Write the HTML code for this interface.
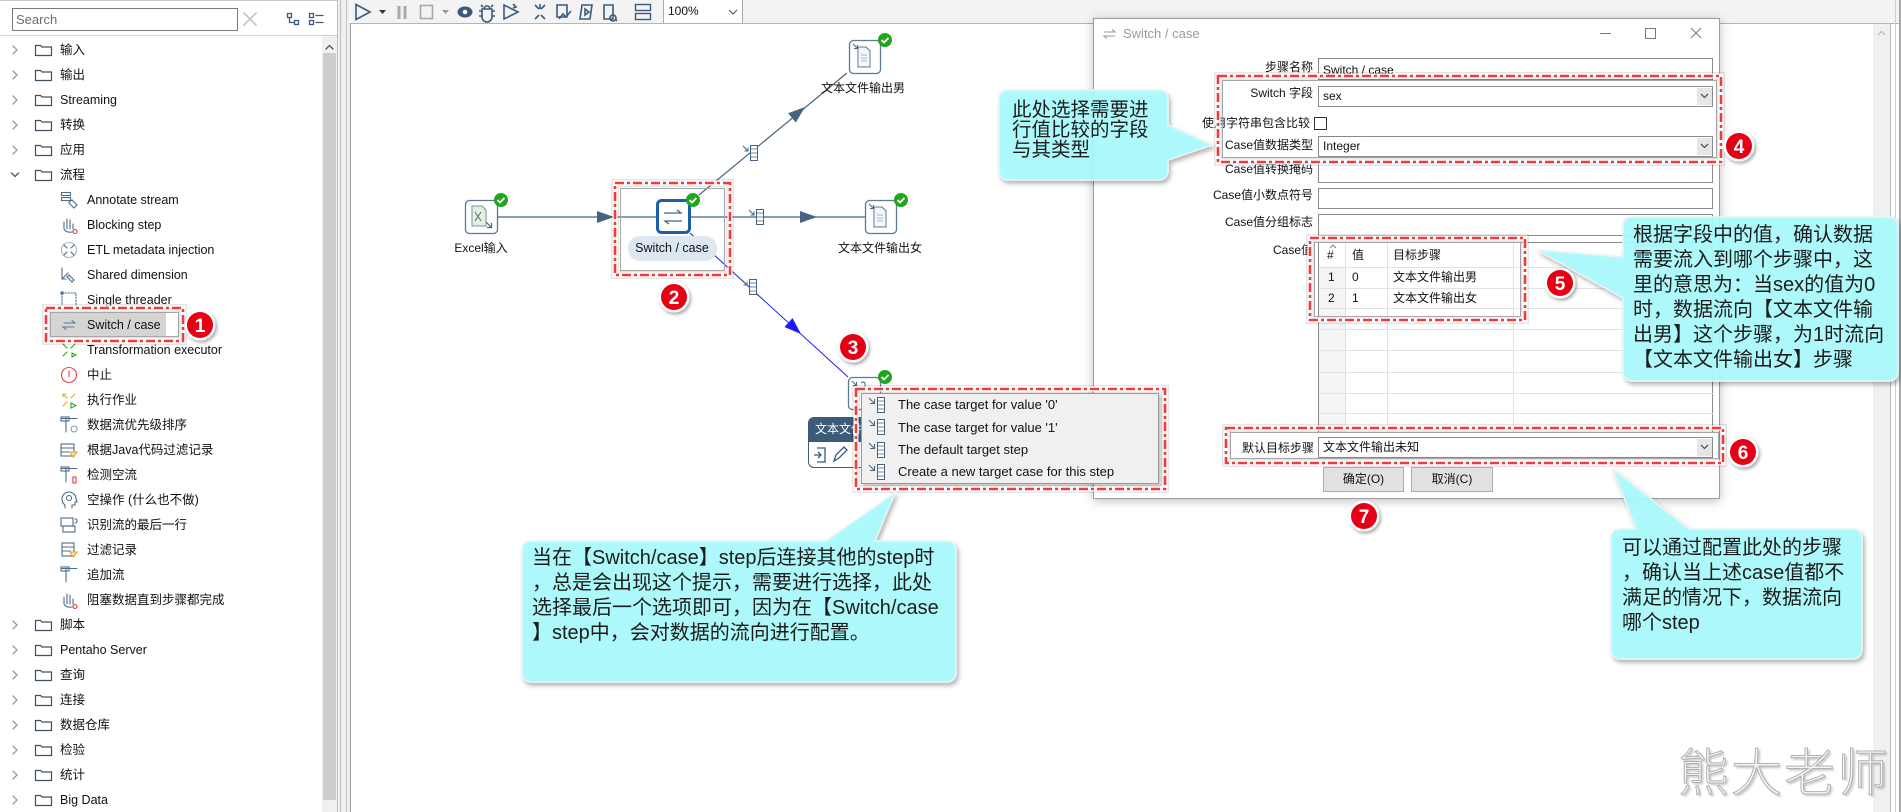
<!DOCTYPE html>
<html><head><meta charset="utf-8">
<style>
*{margin:0;padding:0;box-sizing:border-box}
html,body{width:1901px;height:812px;overflow:hidden;background:#fff}
body{position:relative;font-family:"Liberation Sans","Noto Sans CJK SC",sans-serif;color:#111}
.a{position:absolute}
.t{position:absolute;white-space:nowrap;font-size:12.5px;height:25px;line-height:25px;color:#111}
.lb{position:absolute;white-space:nowrap;font-size:12px;text-align:right;width:140px;left:1173px;height:20px;line-height:20px;color:#111}
.in{position:absolute;left:1318px;width:395px;background:#fff;border:1px solid #8a8a8a;font-size:12px;padding-left:4px;white-space:nowrap;color:#111}
.dd{position:absolute;left:1697px;width:15px;background:#e6e6e6}
.bt{position:absolute;font-size:12px;text-align:center;background:#e1e1e1;border:1px solid #adadad;height:25px;line-height:23px;color:#111}
.bub{position:absolute;white-space:nowrap;color:#1c1c1c}
.mi{position:absolute;left:898px;font-size:13px;white-space:nowrap;height:20px;line-height:20px;color:#111}
.cl{position:absolute;font-size:12px;white-space:nowrap;height:20px;line-height:20px;color:#111}
.nl{position:absolute;font-size:12px;white-space:nowrap;text-align:center;width:140px;height:18px;line-height:18px;color:#111}
</style></head><body>

<!-- ============ SIDEBAR ============ -->
<div class="a" style="left:0;top:0;width:337px;height:812px;background:#fff"></div>
<div class="a" style="left:0;top:0;width:337px;height:1px;background:#c8c8c8"></div>
<div class="a" style="left:12px;top:8px;width:226px;height:23px;border:1px solid #7a7a7a;background:#fff;font-size:13px;line-height:21px;padding-left:3px;color:#6d6d6d">Search</div>
<div class="a" style="left:0;top:35px;width:337px;height:1px;background:#d0d0d0"></div>
<div class="a" style="left:322px;top:36px;width:15px;height:776px;background:#f0f0f0"></div>
<div class="a" style="left:323px;top:53px;width:13px;height:747px;background:#cdcdcd"></div>
<div class="a" style="left:337px;top:0;width:13px;height:812px;background:#f0f0f0"></div>
<div class="a" style="left:337px;top:0;width:1px;height:812px;background:#bcbcbc"></div>
<div class="a" style="left:340px;top:0;width:1px;height:812px;background:#bcbcbc"></div>
<div class="a" style="left:346px;top:0;width:1px;height:812px;background:#c4c4c4"></div>
<div class="a" style="left:350px;top:23px;width:1px;height:789px;background:#a0a0a0"></div>

<div class="a" style="left:51px;top:313px;width:115px;height:23px;background:#d4d4d4"></div>

<svg class="a" style="left:0;top:0" width="337" height="812" fill="none" stroke-linecap="round">
 <path d="M244 13l12 12M256 13l-12 12" stroke="#c4c4c4" stroke-width="1.6"/>
 <g stroke="#3d5a78" stroke-width="1.3">
  <rect x="287.5" y="13.5" width="4" height="4"/><rect x="294.5" y="20.5" width="4" height="4"/><path d="M289.5 17.5v5h5"/>
  <rect x="309.5" y="13.5" width="4" height="4"/><rect x="309.5" y="20.5" width="4" height="4"/><path d="M316 15.5h7M316 22.5h7"/>
 </g>
 <path d="M326 49l3.5-3.5 3.5 3.5" stroke="#555" stroke-width="1.3"/>
 <g stroke="#9a9a9a" stroke-width="1.3">
  <path d="M13 46L17 50L13 54"/><path d="M13 71L17 75L13 79"/><path d="M13 96L17 100L13 104"/>
  <path d="M13 121L17 125L13 129"/><path d="M13 146L17 150L13 154"/>
  <path d="M11.5 173L15 176.5L18.5 173" stroke="#555"/>
  <path d="M13 621L17 625L13 629"/><path d="M13 646L17 650L13 654"/><path d="M13 671L17 675L13 679"/>
  <path d="M13 696L17 700L13 704"/><path d="M13 721L17 725L13 729"/><path d="M13 746L17 750L13 754"/>
  <path d="M13 771L17 775L13 779"/><path d="M13 796L17 800L13 804"/>
 </g>
 <g stroke="#3e4f60" stroke-width="1.2">
  <path d="M35.5 45.5h5l1.5 1.5h9.5v8.5h-16z"/><path d="M35.5 70.5h5l1.5 1.5h9.5v8.5h-16z"/>
  <path d="M35.5 95.5h5l1.5 1.5h9.5v8.5h-16z"/><path d="M35.5 120.5h5l1.5 1.5h9.5v8.5h-16z"/>
  <path d="M35.5 145.5h5l1.5 1.5h9.5v8.5h-16z"/><path d="M35.5 170.5h5l1.5 1.5h9.5v8.5h-16z"/>
  <path d="M35.5 620.5h5l1.5 1.5h9.5v8.5h-16z"/><path d="M35.5 645.5h5l1.5 1.5h9.5v8.5h-16z"/>
  <path d="M35.5 670.5h5l1.5 1.5h9.5v8.5h-16z"/><path d="M35.5 695.5h5l1.5 1.5h9.5v8.5h-16z"/>
  <path d="M35.5 720.5h5l1.5 1.5h9.5v8.5h-16z"/><path d="M35.5 745.5h5l1.5 1.5h9.5v8.5h-16z"/>
  <path d="M35.5 770.5h5l1.5 1.5h9.5v8.5h-16z"/><path d="M35.5 795.5h5l1.5 1.5h9.5v8.5h-16z"/>
 </g>
 <g stroke="#4d6c8b" stroke-width="1.1">
  <g transform="translate(60,191)"><rect x="1.5" y="1.5" width="9" height="3"/><rect x="1.5" y="6.5" width="9" height="3"/><path d="M9 11l3-2 5 5-3 3-5-5z"/></g>
  <g transform="translate(60,216)"><path d="M4 13V6M7 13V3M10 13V4M13 13V8M4 13q2 4 8 3"/><circle cx="15" cy="15.5" r="2" stroke="#e33"/></g>
  <g transform="translate(60,241)"><circle cx="9" cy="9" r="7.5" stroke="#a8b6c4"/><path d="M4 4l3 3M14 4l-3 3M4 14l3-3M14 14l-3-3"/></g>
  <g transform="translate(60,266)"><path d="M2 2v11h4M2 13l6-6M9 9l5 5-2 2-5-5z"/></g>
  <g transform="translate(60,291)"><rect x="2" y="2" width="14" height="14" stroke-dasharray="1.5 1.5"/><rect x="1" y="1" width="2" height="2"/><rect x="15" y="15" width="2" height="2"/></g>
  <g transform="translate(60,316)"><path d="M4 7h11l-3-2.5M14 11H3l3 2.5" stroke="#5b7aa0"/></g>
  <g transform="translate(60,341)" stroke="#2a2"><path d="M3 3l4 4M15 3l-4 4M3 15l4-4"/><path d="M12 12l4 2-4 2z"/></g>
  <g transform="translate(60,366)"><circle cx="9" cy="9" r="7.5" stroke="#e44"/><path d="M9 5v6" stroke="#e44"/></g>
  <g transform="translate(60,391)"><path d="M3 3l4 4M3 3h3M3 3v3M15 3l-4 4M3 15l4-4" stroke="#f0a030"/><path d="M11 12l5 2.5-5 2.5z" stroke="#2a2"/></g>
  <g transform="translate(60,416)"><path d="M1 2.5h16M6 2.5V16"/><rect x="1" y="1" width="8" height="4"/><circle cx="14" cy="13" r="3" stroke="#8899aa"/></g>
  <g transform="translate(60,441)"><rect x="1" y="3" width="13" height="12"/><path d="M1 7h13M1 11h8"/><path d="M10 11h7l-3.5 5z" stroke="#f0a030" fill="#fde6b0"/></g>
  <g transform="translate(60,466)"><path d="M1 2.5h16M6 2.5V16"/><rect x="1" y="1" width="8" height="4"/><path d="M13 11h3v6h-3z" stroke="#e33"/></g>
  <g transform="translate(60,491)"><path d="M5 17v-3q-3-2-3-6a7 7 0 0 1 14 0l1 3h-2v3h-3v3"/><circle cx="9" cy="7" r="2.5"/></g>
  <g transform="translate(60,516)"><rect x="1" y="2" width="12" height="8"/><rect x="3" y="10" width="12" height="6"/><path d="M15 3q2 0 2 2t-2 2"/></g>
  <g transform="translate(60,541)"><rect x="2" y="2" width="12" height="13"/><path d="M2 6h12M2 10h8"/><path d="M10 11h7l-3.5 5z" stroke="#f0a030" fill="#fde6b0"/></g>
  <g transform="translate(60,566)"><path d="M1 2.5h16M6 2.5V16"/><rect x="1" y="1" width="8" height="4"/></g>
  <g transform="translate(60,591)"><path d="M4 13V6M7 13V3M10 13V4M13 13V8M4 13q2 4 8 3"/><circle cx="15" cy="15.5" r="2" stroke="#e33"/></g>
 </g>
</svg>

<div class="t" style="left:60px;top:37.5px">输入</div>
<div class="t" style="left:60px;top:62.5px">输出</div>
<div class="t" style="left:60px;top:87.5px">Streaming</div>
<div class="t" style="left:60px;top:112.5px">转换</div>
<div class="t" style="left:60px;top:137.5px">应用</div>
<div class="t" style="left:60px;top:162.5px">流程</div>
<div class="t" style="left:87px;top:187.5px">Annotate stream</div>
<div class="t" style="left:87px;top:212.5px">Blocking step</div>
<div class="t" style="left:87px;top:237.5px">ETL metadata injection</div>
<div class="t" style="left:87px;top:262.5px">Shared dimension</div>
<div class="t" style="left:87px;top:287.5px">Single threader</div>
<div class="t" style="left:87px;top:312.5px">Switch / case</div>
<div class="t" style="left:87px;top:337.5px">Transformation executor</div>
<div class="t" style="left:87px;top:362.5px">中止</div>
<div class="t" style="left:87px;top:387.5px">执行作业</div>
<div class="t" style="left:87px;top:412.5px">数据流优先级排序</div>
<div class="t" style="left:87px;top:437.5px">根据Java代码过滤记录</div>
<div class="t" style="left:87px;top:462.5px">检测空流</div>
<div class="t" style="left:87px;top:487.5px">空操作 (什么也不做)</div>
<div class="t" style="left:87px;top:512.5px">识别流的最后一行</div>
<div class="t" style="left:87px;top:537.5px">过滤记录</div>
<div class="t" style="left:87px;top:562.5px">追加流</div>
<div class="t" style="left:87px;top:587.5px">阻塞数据直到步骤都完成</div>
<div class="t" style="left:60px;top:612.5px">脚本</div>
<div class="t" style="left:60px;top:637.5px">Pentaho Server</div>
<div class="t" style="left:60px;top:662.5px">查询</div>
<div class="t" style="left:60px;top:687.5px">连接</div>
<div class="t" style="left:60px;top:712.5px">数据仓库</div>
<div class="t" style="left:60px;top:737.5px">检验</div>
<div class="t" style="left:60px;top:762.5px">统计</div>
<div class="t" style="left:60px;top:787.5px">Big Data</div>

<!-- ============ TOOLBAR ============ -->
<div class="a" style="left:351px;top:0;width:1550px;height:23px;background:#f3f3f3"></div>
<div class="a" style="left:351px;top:23px;width:1550px;height:1px;background:#b4b4b4"></div>
<div class="a" style="left:663px;top:0;width:80px;height:23px;background:#fff;border-left:1px solid #aaa;border-right:1px solid #aaa;font-size:12px;line-height:23px;padding-left:4px">100%</div>
<svg class="a" style="left:351px;top:0" width="400" height="23" fill="none" stroke="#3b5b7b" stroke-width="1.6">
 <path d="M5 4.5L19 12 5 19.5z"/>
 <path d="M28 10h7l-3.5 4z" fill="#333" stroke="none"/>
 <path d="M48 6v13M54 6v13" stroke="#aaa" stroke-width="3"/>
 <rect x="69.5" y="5.5" width="12" height="13" stroke="#aaa"/>
 <path d="M91 10h7l-3.5 4z" fill="#999" stroke="none"/>
 <ellipse cx="114" cy="12" rx="7.5" ry="5.5" fill="#3b5b7b" stroke="none"/><circle cx="114" cy="12" r="2.3" fill="#fff" stroke="none"/>
 <path d="M131 9h10v8a5 5 0 0 1-10 0zM133 9a3 3 0 0 1 6 0M128 11h3M141 11h3M128 16h3M141 16h3M130 5l2 2M142 5l-2 2"/>
 <path d="M153 5l14 7-14 7zM162 4l3 3-3 1"/>
 <path d="M184 5l4 4M194 5l-4 4M184 19l4-4M194 19l-4-4M189 4v5"/>
 <path d="M206 5h10v12h-10zM208 19l4-5 3 3 5-6"/>
 <path d="M231 5h10l-2 14h-10zM234 9l4 3-4 3z"/>
 <path d="M253 5h9v14h-9zM262 15a3 3 0 1 1-0.1 0M264 19l2 2"/>
 <rect x="284.5" y="4.5" width="15" height="6" stroke-width="1.4"/><rect x="284.5" y="13.5" width="15" height="6" stroke-width="1.4"/>
 <path d="M378 10l4 4 4-4" stroke="#555" stroke-width="1.1"/>
</svg>

<div class="a" style="left:1873px;top:24px;width:17px;height:788px;background:#f0f0f0"></div>
<div class="a" style="left:1890px;top:24px;width:1px;height:788px;background:#bdbdbd"></div>
<div class="a" style="left:1895px;top:0;width:1px;height:812px;background:#cfcfcf"></div>
<div class="a" style="left:1899px;top:0;width:2px;height:812px;background:#a8a8a8"></div>
<svg class="a" style="left:1873px;top:26px" width="17" height="14"><path d="M5 9l3.5-3.5L12 9" stroke="#c0c0c0" stroke-width="1.4" fill="none"/></svg>

<!-- ============ CANVAS ============ -->
<svg class="a" style="left:0;top:0" width="1901" height="812" fill="none">
 <g stroke="#46637f" stroke-width="1.2">
  <line x1="497" y1="217" x2="657" y2="217"/>
  <line x1="690" y1="217" x2="865" y2="217"/>
  <line x1="699" y1="195" x2="847" y2="73"/>
 </g>
 <line x1="690" y1="233" x2="848" y2="377" stroke="#1a1aff" stroke-width="1"/>
 <g fill="#46637f">
  <polygon points="614,217 597,211 597,223"/>
  <polygon points="817,217 800,211 800,223"/>
  <polygon points="0,0 -17,-6 -17,6" transform="translate(805,107) rotate(-39.8)"/>
 </g>
 <polygon points="0,0 -17,-6 -17,6" fill="#1a1aff" transform="translate(801,334) rotate(42.5)"/>
 <g stroke="#46637f" stroke-width="1">
  <g transform="translate(756,209)"><rect x="0.5" y="0.5" width="7" height="15" fill="#fff"/><path d="M0.5 4h7M0.5 8h7M0.5 12h7" stroke-width=".7"/><path d="M-7 1l5 5M-2 2.5v3.5h-3.5"/></g>
  <g transform="translate(750,145)"><rect x="0.5" y="0.5" width="7" height="15" fill="#fff"/><path d="M0.5 4h7M0.5 8h7M0.5 12h7" stroke-width=".7"/><path d="M-7 1l5 5M-2 2.5v3.5h-3.5"/></g>
  <g transform="translate(749,279)"><rect x="0.5" y="0.5" width="7" height="15" fill="#fff"/><path d="M0.5 4h7M0.5 8h7M0.5 12h7" stroke-width=".7"/><path d="M-7 1l5 5M-2 2.5v3.5h-3.5"/></g>
 </g>
 <rect x="465.5" y="200.5" width="32" height="33" rx="4" fill="#fff" stroke="#5a7a98" stroke-width="1.3"/>
 <path d="M472 206h10l4 4v16h-14z" fill="#e2f0e2" stroke="#7a93aa"/>
 <path d="M475 212l6 9M481 212l-6 9" stroke="#666"/>
 <path d="M486 222l5 5M491.5 223v4.5h-4.5" stroke="#46637f" stroke-width="1.2"/>
 <rect x="657.5" y="200.5" width="32" height="32" rx="4" fill="#fff" stroke="#1c5fa8" stroke-width="3"/>
 <path d="M664 213h17l-4-3M682 221h-17l4 3" stroke="#46637f" stroke-width="1.3"/>
 <rect x="865.5" y="200.5" width="31" height="33" rx="4" fill="#fff" stroke="#5a7a98" stroke-width="1.3"/>
 <path d="M874 207h8l4 4v16h-12z" fill="#f4f7fa" stroke="#5a7a98"/>
 <path d="M877 215h6M877 218h6M877 221h6" stroke="#8aa0b5" stroke-width=".8"/>
 <path d="M869 204l4 4M873.5 205v3.5h-3.5" stroke="#46637f"/>
 <rect x="849.5" y="40.5" width="31" height="33" rx="4" fill="#fff" stroke="#5a7a98" stroke-width="1.3"/>
 <path d="M858 47h8l4 4v16h-12z" fill="#f4f7fa" stroke="#5a7a98"/>
 <path d="M861 55h6M861 58h6M861 61h6" stroke="#8aa0b5" stroke-width=".8"/>
 <path d="M853 44l4 4M857.5 45v3.5h-3.5" stroke="#46637f"/>
 <rect x="848.5" y="377.5" width="32" height="32" rx="4" fill="#fff" stroke="#5a7a98" stroke-width="1.3"/>
 <path d="M852 381l4 4M856.5 382v3.5h-3.5M861 383q2-2 4 0v4" stroke="#46637f"/>
 <g>
  <circle cx="501" cy="200" r="7" fill="#1fa51f"/><path d="M497.5 200l2.5 2.5 4.5-4.5" stroke="#fff" stroke-width="1.8"/>
  <circle cx="693" cy="200" r="7" fill="#1fa51f"/><path d="M689.5 200l2.5 2.5 4.5-4.5" stroke="#fff" stroke-width="1.8"/>
  <circle cx="901" cy="200" r="7" fill="#1fa51f"/><path d="M897.5 200l2.5 2.5 4.5-4.5" stroke="#fff" stroke-width="1.8"/>
  <circle cx="885" cy="40" r="7" fill="#1fa51f"/><path d="M881.5 40l2.5 2.5 4.5-4.5" stroke="#fff" stroke-width="1.8"/>
  <circle cx="885" cy="377" r="7" fill="#1fa51f"/><path d="M881.5 377l2.5 2.5 4.5-4.5" stroke="#fff" stroke-width="1.8"/>
 </g>
</svg>
<div class="a" style="left:628px;top:236px;width:89px;height:25px;border-radius:12px;background:#dce7f2"></div>
<div class="nl" style="left:411px;top:239px">Excel输入</div>
<div class="nl" style="left:602px;top:239px;font-size:12.5px">Switch / case</div>
<div class="nl" style="left:810px;top:239px">文本文件输出女</div>
<div class="nl" style="left:793px;top:79px">文本文件输出男</div>

<!-- tooltip of node 3 -->
<div class="a" style="left:808px;top:417px;width:56px;height:25px;background:#3c5b7a;border-radius:6px 0 0 0;overflow:hidden;color:#fff;font-size:12px;line-height:25px;padding-left:7px;white-space:nowrap">文本文件输出未知</div>
<div class="a" style="left:808px;top:442px;width:56px;height:26px;background:#fff;border:1px solid #3c5b7a;border-top:none;border-radius:0 0 0 6px"></div>
<svg class="a" style="left:812px;top:445px" width="44" height="20" fill="none" stroke="#3c5b7a" stroke-width="1.3">
 <path d="M5 3h8v14H5M2 10h7M6 7l3 3-3 3"/>
 <path d="M22 16l2-6 8-8 3 3-8 8z"/>
</svg>

<!-- ============ DIALOG ============ -->
<div class="a" style="left:1093px;top:18px;width:627px;height:481px;background:#fff;border:1px solid #9c9c9c;box-shadow:0 2px 10px rgba(0,0,0,.25)"></div>
<svg class="a" style="left:1101px;top:26px" width="18" height="16" fill="none" stroke="#999" stroke-width="1.1"><path d="M3 6h11l-3-2.5M14 10H3l3 2.5"/></svg>
<div class="a" style="left:1123px;top:25px;font-size:13px;color:#9a9a9a;line-height:18px;white-space:nowrap">Switch / case</div>
<svg class="a" style="left:1595px;top:24px" width="112" height="20" fill="none" stroke="#777" stroke-width="1">
 <path d="M5 9.5h11"/>
 <rect x="50.5" y="4.5" width="10" height="10"/>
 <path d="M96 4l10 10M106 4l-10 10"/>
</svg>

<div class="lb" style="top:57px">步骤名称</div>
<div class="lb" style="top:83px">Switch 字段</div>
<div class="lb" style="top:113px;left:1170px">使用字符串包含比较</div>
<div class="lb" style="top:135px">Case值数据类型</div>
<div class="lb" style="top:159px">Case值转换掩码</div>
<div class="lb" style="top:185px">Case值小数点符号</div>
<div class="lb" style="top:212px">Case值分组标志</div>
<div class="lb" style="top:240px">Case值</div>
<div class="lb" style="top:438px;left:1174px">默认目标步骤</div>

<div class="in" style="top:58px;height:22px;line-height:22px">Switch / case</div>
<div class="in" style="top:86px;height:21px;line-height:19px">sex</div>
<div class="dd" style="top:88px;height:17px"></div>
<div class="a" style="left:1314px;top:117px;width:13px;height:13px;border:1px solid #333;background:#fff"></div>
<div class="in" style="top:136px;height:21px;line-height:19px">Integer</div>
<div class="dd" style="top:138px;height:17px"></div>
<div class="in" style="top:162px;height:21px"></div>
<div class="in" style="top:188px;height:21px"></div>
<div class="in" style="top:214px;height:22px"></div>

<svg class="a" style="left:1318px;top:242px" width="396" height="190">
 <rect x="0.5" y="0.5" width="394" height="195" fill="#fff" stroke="#8a8a8a"/>
 <rect x="1" y="25" width="26" height="165" fill="#f4f4f4"/>
 <g stroke="#e2e2e2" stroke-width="1">
  <path d="M1 25.5h394M1 46.5h394M1 66.5h394M1 87.5h394M1 108.5h394M1 130.5h394M1 151.5h394M1 171.5h394"/>
  <path d="M27.5 1v189M69.5 1v189M195.5 1v189"/>
 </g>
 <path d="M12 6l3-3 3 3" stroke="#777" fill="none" stroke-width=".9"/>
</svg>
<div class="cl" style="left:1327px;top:245px">#</div>
<div class="cl" style="left:1352px;top:245px">值</div>
<div class="cl" style="left:1393px;top:245px">目标步骤</div>
<div class="cl" style="left:1328px;top:267px">1</div>
<div class="cl" style="left:1352px;top:267px">0</div>
<div class="cl" style="left:1393px;top:267px">文本文件输出男</div>
<div class="cl" style="left:1328px;top:288px">2</div>
<div class="cl" style="left:1352px;top:288px">1</div>
<div class="cl" style="left:1393px;top:288px">文本文件输出女</div>

<div class="in" style="top:437px;height:21px;line-height:19px">文本文件输出未知</div>
<div class="dd" style="top:439px;height:17px"></div>
<svg class="a" style="left:1697px;top:86px" width="15" height="375" fill="none" stroke="#555" stroke-width="1.3">
 <path d="M4 8l3.5 3.5L11 8"/>
 <path d="M4 58l3.5 3.5L11 58"/>
 <path d="M4 359l3.5 3.5L11 359"/>
</svg>

<div class="bt" style="left:1323px;top:467px;width:81px">确定(O)</div>
<div class="bt" style="left:1411px;top:467px;width:82px">取消(C)</div>

<!-- popup menu (on top of dialog) -->
<div class="a" style="left:861px;top:393px;width:298px;height:91px;background:#f0f0f0;border:1px solid #999;box-shadow:2px 2px 3px rgba(0,0,0,.25)"></div>
<svg class="a" style="left:866px;top:396px" width="24" height="86" fill="none" stroke="#46637f" stroke-width="1">
 <g transform="translate(0,0)"><path d="M3 2l5 5M8.5 3v4.5H4"/><rect x="11.5" y="1.5" width="7" height="15" fill="#fff"/><path d="M11.5 5h7M11.5 9h7M11.5 13h7" stroke-width=".7"/></g>
 <g transform="translate(0,22)"><path d="M3 2l5 5M8.5 3v4.5H4"/><rect x="11.5" y="1.5" width="7" height="15" fill="#fff"/><path d="M11.5 5h7M11.5 9h7M11.5 13h7" stroke-width=".7"/></g>
 <g transform="translate(0,45)"><path d="M3 2l5 5M8.5 3v4.5H4"/><rect x="11.5" y="1.5" width="7" height="15" fill="#fff"/><path d="M11.5 5h7M11.5 9h7M11.5 13h7" stroke-width=".7"/></g>
 <g transform="translate(0,67)"><path d="M3 2l5 5M8.5 3v4.5H4"/><rect x="11.5" y="1.5" width="7" height="15" fill="#fff"/><path d="M11.5 5h7M11.5 9h7M11.5 13h7" stroke-width=".7"/></g>
</svg>
<div class="mi" style="top:395px">The case target for value '0'</div>
<div class="mi" style="top:418px">The case target for value '1'</div>
<div class="mi" style="top:440px">The default target step</div>
<div class="mi" style="top:462px">Create a new target case for this step</div>

<!-- watermark -->
<div class="a" style="left:1678px;top:742px;font-size:51px;line-height:64px;font-family:'Liberation Sans','Noto Sans CJK SC',sans-serif;font-weight:300;color:#f7f7f7;-webkit-text-stroke:1px #b0b0b0;text-shadow:2px 2px 2px rgba(0,0,0,.25);letter-spacing:2px;white-space:nowrap">熊大老师</div>

<!-- ============ ANNOTATIONS ============ -->
<svg class="a" style="left:0;top:0" width="1901" height="812" fill="none">
 <defs>
  <filter id="sh" x="-20%" y="-20%" width="140%" height="140%"><feDropShadow dx="1.5" dy="2" stdDeviation="1.5" flood-color="#000" flood-opacity=".35"/></filter>
  <filter id="bs" x="-10%" y="-10%" width="120%" height="130%"><feDropShadow dx="2" dy="3" stdDeviation="2" flood-color="#000" flood-opacity=".3"/></filter>
 </defs>
 <g>
  <g stroke="#000" stroke-opacity=".10" stroke-width="8">
   <rect x="46" y="308" width="137" height="33"/>
   <rect x="615" y="183" width="115" height="92"/>
   <rect x="856" y="389" width="309" height="100"/>
   <rect x="1218" y="76" width="503" height="86"/>
   <rect x="1310" y="238" width="215" height="82"/>
   <rect x="1226" y="428" width="497" height="35"/>
  </g>
  <g stroke="#fff" stroke-width="5">
   <rect x="46" y="308" width="137" height="33"/>
   <rect x="615" y="183" width="115" height="92"/>
   <rect x="856" y="389" width="309" height="100"/>
   <rect x="1218" y="76" width="503" height="86"/>
   <rect x="1310" y="238" width="215" height="82"/>
   <rect x="1226" y="428" width="497" height="35"/>
  </g>
  <g stroke="#a5a5a5" stroke-width="1">
   <rect x="50.5" y="312.5" width="128" height="24"/>
   <rect x="620.5" y="188.5" width="104" height="82"/>
   <rect x="1222.5" y="80.5" width="494" height="77"/>
   <rect x="1314.5" y="242.5" width="206" height="74"/>
   <rect x="1230.5" y="432.5" width="488" height="26"/>
  </g>
  <g stroke="#ee3b3b" stroke-width="2.6" stroke-dasharray="9 3 3 3">
   <rect x="46" y="308" width="137" height="33"/>
   <rect x="615" y="183" width="115" height="92"/>
   <rect x="856" y="389" width="309" height="100"/>
   <rect x="1218" y="76" width="503" height="86"/>
   <rect x="1310" y="238" width="215" height="82"/>
   <rect x="1226" y="428" width="497" height="35"/>
  </g>
 </g>
 <g fill="#a9fbfd" fill-opacity=".92" stroke="#e8f4f4" stroke-width="1.5" filter="url(#bs)">
  <path d="M1009,90 H1158 Q1168,90 1168,100 V125 L1212,145 L1168,160 V170 Q1168,180 1158,180 H1009 Q999,180 999,170 V100 Q999,90 1009,90 Z"/>
  <path d="M1633,217 H1888 Q1898,217 1898,227 V371 Q1898,381 1888,381 H1633 Q1623,381 1623,371 V298 L1537,250 L1623,257 V227 Q1623,217 1633,217 Z"/>
  <path d="M532,541 H826 L895,493 L875,541 H946 Q956,541 956,551 V672 Q956,682 946,682 H532 Q522,682 522,672 V551 Q522,541 532,541 Z"/>
  <path d="M1621,529 H1636 L1613,469 L1689,529 H1852 Q1862,529 1862,539 V649 Q1862,659 1852,659 H1621 Q1611,659 1611,649 V539 Q1611,529 1621,529 Z"/>
 </g>
 <g font-family="Liberation Sans, sans-serif" font-size="19" font-weight="bold" text-anchor="middle" stroke="none">
  <g filter="url(#sh)"><circle cx="200" cy="325" r="15.5" fill="#fff"/><circle cx="200" cy="325" r="13" fill="#e60012"/><text x="200" y="332" fill="#fff">1</text></g>
  <g filter="url(#sh)"><circle cx="674" cy="297" r="15.5" fill="#fff"/><circle cx="674" cy="297" r="13" fill="#e60012"/><text x="674" y="304" fill="#fff">2</text></g>
  <g filter="url(#sh)"><circle cx="853" cy="347" r="15.5" fill="#fff"/><circle cx="853" cy="347" r="13" fill="#e60012"/><text x="853" y="354" fill="#fff">3</text></g>
  <g filter="url(#sh)"><circle cx="1739" cy="146" r="15.5" fill="#fff"/><circle cx="1739" cy="146" r="13" fill="#e60012"/><text x="1739" y="153" fill="#fff">4</text></g>
  <g filter="url(#sh)"><circle cx="1560" cy="283" r="15.5" fill="#fff"/><circle cx="1560" cy="283" r="13" fill="#e60012"/><text x="1560" y="290" fill="#fff">5</text></g>
  <g filter="url(#sh)"><circle cx="1743" cy="452" r="15.5" fill="#fff"/><circle cx="1743" cy="452" r="13" fill="#e60012"/><text x="1743" y="459" fill="#fff">6</text></g>
  <g filter="url(#sh)"><circle cx="1364" cy="516" r="15.5" fill="#fff"/><circle cx="1364" cy="516" r="13" fill="#e60012"/><text x="1364" y="523" fill="#fff">7</text></g>
 </g>
</svg>

<div class="bub" style="left:1012px;top:100px;font-size:19.5px;line-height:20px">此处选择需要进<br>行值比较的字段<br>与其类型</div>
<div class="bub" style="left:1633px;top:222.5px;font-size:20px;line-height:25px">根据字段中的值，确认数据<br>需要流入到哪个步骤中，这<br>里的意思为：当sex的值为0<br>时，数据流向【文本文件输<br>出男】这个步骤，为1时流向<br>【文本文件输出女】步骤</div>
<div class="bub" style="left:532px;top:545.5px;font-size:20px;line-height:25px">当在【Switch/case】step后连接其他的step时<br>，总是会出现这个提示，需要进行选择，此处<br>选择最后一个选项即可，因为在【Switch/case<br>】step中，会对数据的流向进行配置。</div>
<div class="bub" style="left:1622px;top:535.5px;font-size:20px;line-height:25px">可以通过配置此处的步骤<br>，确认当上述case值都不<br>满足的情况下，数据流向<br>哪个step</div>

</body></html>
